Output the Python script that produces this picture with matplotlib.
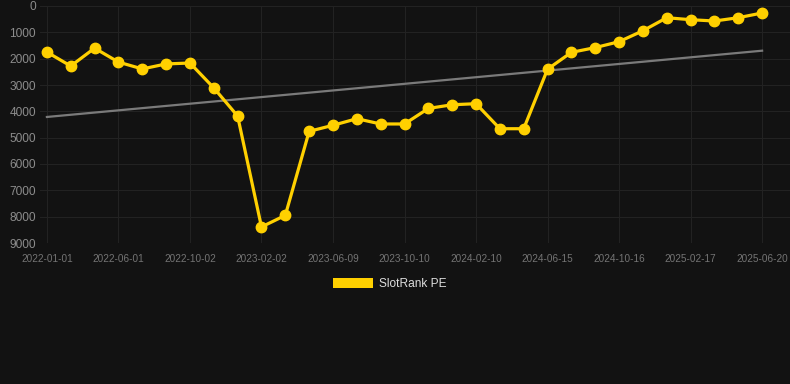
import numpy as np
import matplotlib
matplotlib.use("Agg")
from matplotlib import pyplot as plt
from matplotlib.patches import Patch

# Data (rank, lower is better)
rank_values: list[int] = [
	1750, 2280, 1600, 2130, 2390, 2200, 2165, 3110, 4180, 8390,
	7950, 4760, 4530, 4280, 4480, 4480, 3890, 3750, 3710, 4660,
	4660, 2400, 1760, 1580, 1355, 940, 445, 520, 570, 445, 265,
]
tick_labels: list[str] = [
	"2022-01-01", "2022-06-01", "2022-10-02", "2023-02-02", "2023-06-09", "2023-10-10",
	"2024-02-10", "2024-06-15", "2024-10-16", "2025-02-17", "2025-06-20",
]
y_ticks: list[int] = [0, 1000, 2000, 3000, 4000, 5000, 6000, 7000, 8000, 9000]
series_name: str = "SlotRank PE"

# Style
BG_COLOR: str = "#121212"
LINE_COLOR: str = "#FFD000"
TREND_COLOR: str = "#7a7a7a"
GRID_COLOR: str = "#222222"
plt.rcParams["font.family"] = ["Liberation Sans", "DejaVu Sans"]

fig = plt.figure(figsize=(7.9, 3.84), dpi=100, facecolor=BG_COLOR)
ax = fig.add_axes([40 / 790, 1 - 243 / 384, 750 / 790, 237 / 384], facecolor=BG_COLOR)

x = np.arange(len(rank_values))

# Trend line (linear fit)
slope, intercept = np.polyfit(x, rank_values, 1)
ax.plot(x, slope * x + intercept, color=TREND_COLOR, linewidth=1.6, zorder=2)

ax.plot(x, rank_values, color=LINE_COLOR, linewidth=2.3, marker="o", markersize=7.5, zorder=3)

ax.set_ylim(9000, 0)
ax.set_xlim(-0.29, 31.17)
ax.set_yticks(y_ticks)
ax.set_xticks(x[::3])
ax.set_xticklabels(tick_labels)

ax.grid(True, color=GRID_COLOR, linewidth=0.8)
ax.set_axisbelow(True)
for spine in ax.spines.values():
	spine.set_visible(False)
ax.tick_params(axis="y", length=0, pad=3, labelsize=8.6, labelcolor="#8c8c8c")
ax.tick_params(axis="x", length=0, pad=8, labelsize=7.2, labelcolor="#747474")

fig.legend(
	handles=[Patch(facecolor=LINE_COLOR, edgecolor="none", label=series_name)],
	loc="center", bbox_to_anchor=(390 / 790, 1 - 284 / 384),
	frameon=False, fontsize=8.6, labelcolor="#dddddd",
	handlelength=3.3, handleheight=1.0, handletextpad=0.55,
)

fig.savefig("out.png", dpi=100, facecolor=BG_COLOR)
